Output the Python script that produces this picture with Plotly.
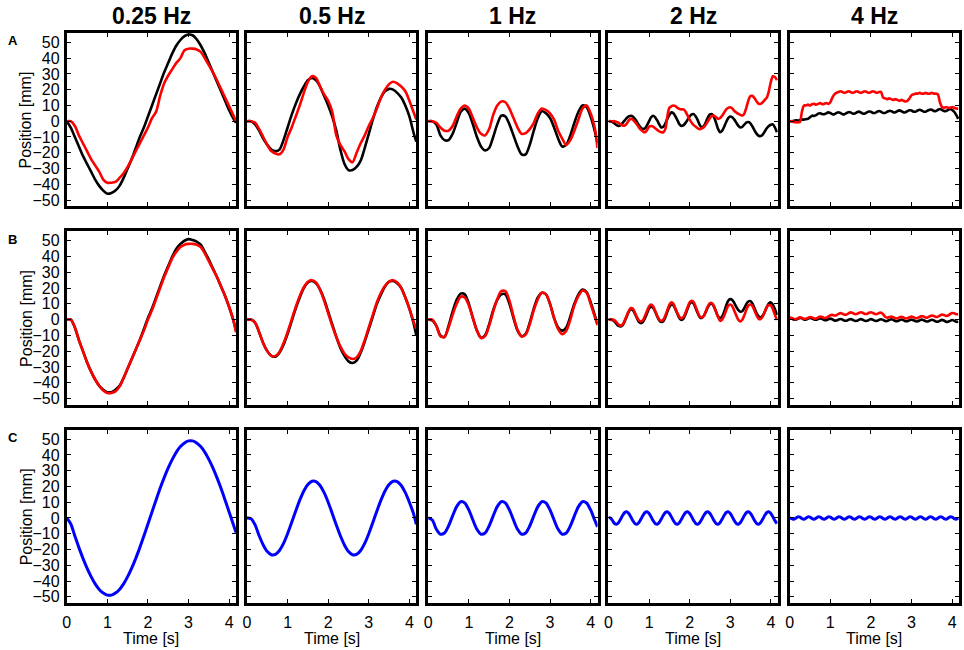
import plotly.graph_objects as go

# ---- time bases [s] ----
t_coarse = [0.0, 0.1, 0.2, 0.3, 0.4, 0.5, 0.6, 0.7, 0.8, 0.9,
            1.0, 1.1, 1.2, 1.3, 1.4, 1.5, 1.6, 1.7, 1.8, 1.9,
            2.0, 2.1, 2.2, 2.3, 2.4, 2.5, 2.6, 2.7, 2.8, 2.9,
            3.0, 3.1, 3.2, 3.3, 3.4, 3.5, 3.6, 3.7, 3.8, 3.9,
            4.0, 4.1, 4.17]

t_fine = [0.00, 0.05, 0.10, 0.15, 0.20, 0.25, 0.30, 0.35, 0.40, 0.45,
          0.50, 0.55, 0.60, 0.65, 0.70, 0.75, 0.80, 0.85, 0.90, 0.95,
          1.00, 1.05, 1.10, 1.15, 1.20, 1.25, 1.30, 1.35, 1.40, 1.45,
          1.50, 1.55, 1.60, 1.65, 1.70, 1.75, 1.80, 1.85, 1.90, 1.95,
          2.00, 2.05, 2.10, 2.15, 2.20, 2.25, 2.30, 2.35, 2.40, 2.45,
          2.50, 2.55, 2.60, 2.65, 2.70, 2.75, 2.80, 2.85, 2.90, 2.95,
          3.00, 3.05, 3.10, 3.15, 3.20, 3.25, 3.30, 3.35, 3.40, 3.45,
          3.50, 3.55, 3.60, 3.65, 3.70, 3.75, 3.80, 3.85, 3.90, 3.95,
          4.00, 4.05, 4.10, 4.15]

freq_labels = ['0.25 Hz', '0.5 Hz', '1 Hz', '2 Hz', '4 Hz']
row_labels = ['A', 'B', 'C']
y_ticks = [-50, -40, -30, -20, -10, 0, 10, 20, 30, 40, 50]
x_ticks = [0, 1, 2, 3, 4]

# ---- row A: black / red position [mm] ----
a_black_025 = [0, -4, -10, -16, -22, -27, -32, -37, -41, -44,
               -46, -45.5, -44, -41, -36, -30, -24, -17, -10, -4,
               3, 10, 17, 24, 31, 37, 43, 48, 51.5, 54,
               55, 54.5, 52, 48, 43, 37, 31, 25, 19, 13,
               7, 2, -1]
a_red_025 = [0, 0, -3, -9, -14, -19, -24, -28, -32, -37,
             -39, -39, -38.5, -36, -33, -29, -24, -19, -14, -9,
             -4, 2, 6, 16, 24, 29, 33, 37, 40, 45,
             46, 46, 45.5, 44, 40, 35.5, 31, 26, 20.5, 15,
             9.5, 4, 0]

a_black_05 = [0, 0, -2, -6, -11, -15, -18, -19, -18, -12,
              -4, 4, 11, 17, 22, 26, 27.5, 26, 22, 16,
              10, 3, -6, -18, -27, -31, -31, -29, -25, -17,
              -8, 1, 9, 15, 19, 20.5, 20, 18, 15, 10,
              3, -7, -13]
a_red_05 = [0, 0, -1, -5, -10, -15, -19, -20.5, -21, -18,
            -10, -4, 3, 10, 18, 25, 28.5, 27.5, 22, 17,
            13, 6, -9, -15, -19, -24, -26, -20, -14, -9,
            -3, 2, 8, 15, 20, 23.5, 25, 24, 22, 19,
            13, 6, 1]

a_black_1 = [0, 0, -2, -9, -12, -12, -8, -1, 6, 8,
             5, -2, -10, -16, -18.5, -17, -10, -2, 3.5, 3,
             -2, -9, -16, -21, -21, -15, -6, 2, 6.5, 5,
             2, -4, -11, -16, -15, -9, -1, 6, 10, 9,
             3, -6, -14]
a_red_1 = [0, 0, -1, -4, -6, -6, -3, 3, 8, 10,
           8, 2, -4, -8, -9, -5, 4, 10, 12.5, 12,
           8, 2, -4, -8, -7.5, -5, -1, 5, 8, 7,
           5, 1, -6, -11, -15, -12, -6, 1, 8, 10,
           5, -4, -17]

a_black_2 = [0, 0, -0.5, -1.5, -2.5, -3, -2.5, -1, 0.5, 2,
             3, 3.5, 3, 1.5, -0.5, -2.5, -4.2, -5, -4.5, -2.5,
             0, 2.5, 3.5, 2.5, 0.5, -2, -4, -3.5, -1.5, 1.5,
             4, 5.6, 5, 3, 0.5, -2, -3, -2.5, -1, 1,
             3, 4.3, 4.5, 3, 0.5, -2.5, -4, -3, -0.5, 2.5,
             4.3, 4.5, 2.5, -1, -5, -7, -6, -3.5, -0.5, 2,
             3, 2.5, 1, -1, -3, -4, -3.5, -2, -0.8, -0.5,
             -1.5, -3.5, -6, -8, -9.2, -9.4, -8.5, -6.5, -4.5, -3,
             -2.2, -2, -4, -7]
a_red_2 = [0, 0, 0, 0, -0.5, -1, -2, -2.7, -2.7, -1.5,
           0.5, 1.5, 1, -0.5, -2, -4, -5.5, -6.5, -7, -5.5,
           -3.5, -3, -3.5, -4.5, -5.5, -6.5, -7, -7, -5, 3,
           8.5, 9.5, 10, 9.5, 8.5, 7.7, 7.5, 7.5, 6, 3.5,
           1, -1, -2.5, -3.5, -4.5, -5, -4.5, -3.8, -2, 0,
           2, 3.5, 3.5, 2.5, 1.5, 2, 3.5, 5.5, 7.5, 8.5,
           8.8, 8, 6.5, 5.5, 4.6, 4, 3.6, 5, 9, 13.5,
           16, 16, 14.5, 12.5, 11, 11, 12, 13.5, 15, 19,
           25, 28.5, 28, 26]

a_black_4 = [0, 0, 0.3, 0.5, 0.5, 0.8, 1, 1, 1.3, 1.5,
             2.5, 3.5, 3.4, 3.9, 4.8, 5.0, 4.5, 4.4, 5.0, 5.6,
             5.2, 4.45, 4.45, 5.2, 5.7, 5.2, 4.45, 4.45, 5.2, 5.7,
             5.6, 4.85, 4.85, 5.6, 6.1, 5.6, 4.85, 4.85, 5.6, 6.1,
             6.0, 5.25, 5.25, 6.0, 6.5, 6.0, 5.25, 5.25, 6.0, 6.5,
             6.4, 5.65, 5.65, 6.4, 6.9, 6.4, 5.65, 5.65, 6.4, 6.9,
             6.8, 6.05, 6.05, 6.8, 7.3, 6.8, 6.05, 6.05, 6.8, 7.3,
             7.2, 6.45, 6.45, 7.2, 7.7, 7.2, 6.45, 6.45, 7.2, 7.7,
             7.2, 6, 4, 1.5]
a_red_4 = [0, 0, -0.5, -0.7, -0.7, -0.5, 6, 10, 10, 10.5,
           10, 10.8, 11, 10.5, 11, 11.5, 10.8, 11, 11.5, 11,
           12, 15, 17, 18, 18.5, 19, 18.5, 18, 18.5, 19,
           18.5, 18, 18.5, 19, 18.5, 18, 18.5, 19, 18.5, 18,
           18.5, 19, 18.5, 18, 18.5, 18.5, 15, 14.5, 14, 14.5,
           14, 13.5, 14, 13.5, 13, 13.5, 13, 12.5, 13, 14.5,
           16.5, 17, 17.5, 17.5, 18, 17.5, 17.5, 18, 17.5, 17.5,
           18, 17.5, 17.5, 17, 12, 9, 8.5, 9, 8.5, 8.5,
           9, 8.5, 8, 8]

# ---- row B: black / red position [mm] ----
b_black_025 = [0, 0, -5, -13, -20, -27, -33, -38, -42, -44.5,
               -46, -46, -44.5, -42, -37, -31, -25, -19, -13, -6,
               1, 7, 14, 21, 28, 34, 40, 45, 48, 50,
               51, 50.5, 49.5, 47.5, 43, 38, 32.5, 27, 21, 15,
               8, 0, -7]
b_red_025 = [0, 0, -5, -13, -20, -27, -33, -38, -42, -45,
             -46.5, -46.5, -45.5, -42.5, -37, -31, -25, -19, -13, -7,
             0, 6, 13, 20, 27, 33, 39, 43, 46, 47.5,
             48, 48, 47.5, 46, 42, 37, 32, 27, 21, 15,
             8, 0, -8]

b_black_05 = [0, 0, -2, -8, -15, -20, -23, -23.5, -21, -16,
              -9, -1, 7, 14, 20, 23.5, 24.5, 23, 19, 13,
              5, -3, -11, -18, -23, -26.5, -27.5, -26, -21, -14,
              -6, 2, 10, 16, 21, 24, 24.5, 23, 20, 14,
              7, -2, -10]
b_red_05 = [0, 0, -2, -8, -15, -20, -23, -23, -20.5, -15,
            -8, 0, 8, 15, 20.5, 24, 25, 23.5, 19, 12,
            4, -4, -11, -17, -21.5, -24, -25, -24, -20, -13,
            -5, 3, 11, 17, 21.5, 24, 25, 23.5, 20, 14,
            7, -1, -6]

b_black_1 = [0, -0.5, -4, -10, -11, -4, 5, 12.5, 16.5, 16,
             10, 1, -7, -11.5, -10, -3, 6, 12.5, 16, 16,
             10, 1, -7, -10.5, -9, -2, 7, 14, 17, 16,
             10, 1, -5, -7, -5, 2, 10, 16, 19, 17.5,
             11, 3, -3]
b_red_1 = [0, 0, -4, -10.5, -11, -5, 3, 10, 14.5, 14,
           9, 1, -7, -11.7, -10.5, -4, 5, 13, 18, 18,
           12, 2, -6.5, -10.7, -9.5, -3, 6, 13, 17, 16,
           10, 1, -6, -9.2, -7, 0, 9, 15, 18.5, 17,
           10, 2, -3.5]

b_black_2 = [0, 0, -0.3, -1.2, -2.8, -4, -4.4, -3.5, -1, 2,
             5, 6.7, 6, 3.8, 1, -1.5, -2.3, -1.5, 1, 4,
             7, 8.2, 7.5, 5, 2, -0.5, -1.5, -1, 1.5, 5,
             8, 9.6, 9, 6.5, 3.5, 0.8, -0.2, 0.8, 3.5, 7,
             10, 11, 10, 7, 4, 1.5, 1, 2.5, 5, 8,
             9.8, 10, 8, 5, 2, 1, 2, 5, 9, 12,
             13, 12.5, 10.5, 8, 6, 5, 5.5, 7.5, 10, 11.5,
             11.7, 10, 7, 4, 2, 1.3, 2.5, 5, 8, 10.2,
             10.9, 9.5, 6.5, 3]
b_red_2 = [0, 0, 0, -0.5, -1.8, -3.2, -3.8, -3, -0.5, 2.5,
           5.5, 7.3, 7, 4.5, 1.5, -0.5, -1.2, -0.3, 2.5, 5.5,
           8.5, 9.6, 8.5, 5.5, 2.5, 0, -0.8, 0, 2.5, 6,
           9.5, 10.9, 10, 7, 4, 1.5, 0.8, 1.8, 4.5, 8,
           11, 12, 11, 8, 4.5, 2, 1.3, 2.5, 5.5, 8.5,
           10.5, 10.5, 8.5, 5, 1.5, -0.8, 0, 2.5, 6, 8.8,
           9.6, 8.5, 5.5, 2.5, -0.2, -1.2, 0, 3, 6.5, 9,
           9.6, 8.5, 5.5, 2.5, 0.5, 0.3, 2, 5, 8, 9.2,
           9, 6.5, 3, -0.2]

b_black_4 = [0.8, 0.6, 0.0, -0.1, 0.5, 1.0, 0.8, 0.1, 0.0, 0.6,
             1.0, 0.7, 0.0, -0.1, 0.4, 0.8, 0.5, -0.3, -0.4, 0.2,
             0.6, 0.2, -0.5, -0.6, 0.0, 0.4, 0.0, -0.7, -0.7, -0.1,
             0.3, -0.1, -0.8, -0.8, -0.2, 0.3, -0.1, -0.8, -0.8, -0.2,
             0.3, -0.1, -0.8, -0.8, -0.2, 0.2, -0.2, -0.9, -0.9, -0.3,
             0.2, -0.2, -0.9, -1.0, -0.4, 0.1, -0.3, -1.0, -1.0, -0.4,
             0.0, -0.4, -1.1, -1.1, -0.5, 0.0, -0.4, -1.1, -1.2, -0.6,
             -0.1, -0.5, -1.2, -1.3, -0.7, -0.2, -0.6, -1.3, -1.4, -0.8,
             -0.3, -0.7, -1.4, -1.4]
b_red_4 = [1.3, 1.0, 0.4, 0.3, 0.9, 1.4, 1.1, 0.5, 0.5, 1.1,
           1.6, 1.3, 0.7, 0.7, 1.3, 1.9, 1.6, 1.0, 1.1, 1.9,
           2.8, 3.0, 2.6, 2.8, 3.6, 4.1, 3.7, 3.1, 3.2, 4.0,
           4.6, 4.2, 3.5, 3.5, 4.2, 4.7, 4.3, 3.6, 3.6, 4.3,
           4.7, 4.2, 3.5, 3.5, 4.2, 4.4, 3.4, 1.8, 1.2, 1.6,
           2.0, 1.5, 0.8, 0.8, 1.4, 1.8, 1.4, 0.8, 0.8, 1.5,
           1.9, 1.5, 0.9, 1.0, 1.7, 2.2, 1.9, 1.3, 1.4, 2.1,
           2.6, 2.3, 1.7, 1.8, 2.6, 3.2, 2.9, 2.4, 2.6, 3.5,
           4.2, 4.0, 3.4, 3.4]

# ---- row C: blue position [mm] ----
c_blue_025 = [0, -3.8, -11.4, -18.8, -25.6, -31.8, -37.2, -41.8, -45.3, -47.6,
              -48.9, -48.9, -47.6, -45.3, -41.8, -37.2, -31.8, -25.6, -18.8, -11.4,
              -3.8, 3.8, 11.4, 18.8, 25.6, 31.8, 37.2, 41.8, 45.3, 47.6,
              48.9, 48.9, 47.6, 45.3, 41.8, 37.2, 31.8, 25.6, 18.8, 11.4,
              3.8, -3.8, -9.2]
c_blue_05 = [0, -0.5, -4.4, -11.3, -17.1, -21.3, -23.3, -23.1, -20.6, -16.1,
             -10.0, -2.9, 4.4, 11.3, 17.1, 21.3, 23.3, 23.1, 20.6, 16.1,
             10.0, 2.9, -4.4, -11.3, -17.1, -21.3, -23.3, -23.1, -20.6, -16.1,
             -10.0, -2.9, 4.4, 11.3, 17.1, 21.3, 23.3, 23.1, 20.6, 16.1,
             10.0, 2.9, -4]
c_blue_1 = [0, -1.3, -7.2, -10.3, -9.5, -5.1, 1.3, 7.2, 10.3, 9.5,
            5.1, -1.3, -7.2, -10.3, -9.5, -5.1, 1.3, 7.2, 10.3, 9.5,
            5.1, -1.3, -7.2, -10.3, -9.5, -5.1, 1.3, 7.2, 10.3, 9.5,
            5.1, -1.3, -7.2, -10.3, -9.5, -5.1, 1.3, 7.2, 10.3, 9.5,
            5.1, -1.3, -5.6]
c_blue_2 = [0, 0, -1.7, -3.5, -4.0, -2.9, -0.7, 1.7, 3.5, 4.0,
            2.9, 0.7, -1.7, -3.5, -4.0, -2.9, -0.7, 1.7, 3.5, 4.0,
            2.9, 0.7, -1.7, -3.5, -4.0, -2.9, -0.7, 1.7, 3.5, 4.0,
            2.9, 0.7, -1.7, -3.5, -4.0, -2.9, -0.7, 1.7, 3.5, 4.0,
            2.9, 0.7, -1.7, -3.5, -4.0, -2.9, -0.7, 1.7, 3.5, 4.0,
            2.9, 0.7, -1.7, -3.5, -4.0, -2.9, -0.7, 1.7, 3.5, 4.0,
            2.9, 0.7, -1.7, -3.5, -4.0, -2.9, -0.7, 1.7, 3.5, 4.0,
            2.9, 0.7, -1.7, -3.5, -4.0, -2.9, -0.7, 1.7, 3.5, 4.0,
            2.9, 0.7, -1.7, -3.5]
c_blue_4 = [0, -0.4, -0.8, -0.1, 0.7, 0.55, -0.4, -0.8, -0.1, 0.7,
            0.55, -0.4, -0.8, -0.1, 0.7, 0.55, -0.4, -0.8, -0.1, 0.7,
            0.55, -0.4, -0.8, -0.1, 0.7, 0.55, -0.4, -0.8, -0.1, 0.7,
            0.55, -0.4, -0.8, -0.1, 0.7, 0.55, -0.4, -0.8, -0.1, 0.7,
            0.55, -0.4, -0.8, -0.1, 0.7, 0.55, -0.4, -0.8, -0.1, 0.7,
            0.55, -0.4, -0.8, -0.1, 0.7, 0.55, -0.4, -0.8, -0.1, 0.7,
            0.55, -0.4, -0.8, -0.1, 0.7, 0.55, -0.4, -0.8, -0.1, 0.7,
            0.55, -0.4, -0.8, -0.1, 0.7, 0.55, -0.4, -0.8, -0.1, 0.7,
            0.55, -0.4, -0.8, -0.1]

col_times = [t_coarse, t_coarse, t_coarse, t_fine, t_fine]
panels = [
    [[(a_black_025, 'black'), (a_red_025, 'red')],
     [(a_black_05, 'black'), (a_red_05, 'red')],
     [(a_black_1, 'black'), (a_red_1, 'red')],
     [(a_black_2, 'black'), (a_red_2, 'red')],
     [(a_black_4, 'black'), (a_red_4, 'red')]],
    [[(b_black_025, 'black'), (b_red_025, 'red')],
     [(b_black_05, 'black'), (b_red_05, 'red')],
     [(b_black_1, 'black'), (b_red_1, 'red')],
     [(b_black_2, 'black'), (b_red_2, 'red')],
     [(b_black_4, 'black'), (b_red_4, 'red')]],
    [[(c_blue_025, 'blue')], [(c_blue_05, 'blue')], [(c_blue_1, 'blue')],
     [(c_blue_2, 'blue')], [(c_blue_4, 'blue')]],
]

# ---- layout geometry (pixels) ----
W, H = 964, 650
col_left = [63, 244, 426, 607, 789]
row_top = [33, 232, 431]
pw, ph = 170, 174
colors = {'black': '#000000', 'red': '#ff0000', 'blue': '#0000ff'}
font = 'Arial, Liberation Sans, sans-serif'

fig = go.Figure()
layout = {}
for r in range(3):
    for c in range(5):
        n = r * 5 + c + 1
        sfx = '' if n == 1 else str(n)
        for series, cname in panels[r][c]:
            fig.add_trace(go.Scatter(
                x=col_times[c], y=series, mode='lines',
                line=dict(color=colors[cname], width=3 if cname == 'blue' else 2.6,
                          shape='spline', smoothing=0.8),
                xaxis='x' + sfx, yaxis='y' + sfx,
                showlegend=False, hoverinfo='skip'))
        common = dict(showline=True, linewidth=3, linecolor='black', mirror='ticks',
                      ticks='inside', ticklen=4, tickwidth=1, tickcolor='black',
                      showgrid=False, zeroline=False, fixedrange=True,
                      tickfont=dict(family=font, size=16, color='black'))
        layout['xaxis' + sfx] = dict(
            common, domain=[col_left[c] / W, (col_left[c] + pw) / W],
            anchor='y' + sfx, range=[0, 4.17], tickvals=x_ticks,
            showticklabels=(r == 2), ticklabelstandoff=3)
        layout['yaxis' + sfx] = dict(
            common, domain=[1 - (row_top[r] + ph) / H, 1 - row_top[r] / H],
            anchor='x' + sfx, range=[-54, 56], tickvals=y_ticks,
            showticklabels=(c == 0), ticklabelstandoff=1)


def label(text, px, py, size, angle=0):
    return dict(text=text, x=px / W, y=1 - py / H, xref='paper', yref='paper',
                xanchor='center', yanchor='middle', showarrow=False, textangle=angle,
                font=dict(family=font, size=size, color='black'))


annotations = []
for c, lab in enumerate(freq_labels):
    annotations.append(label('<b>' + lab + '</b>', col_left[c] + pw / 2, 16, 23))
    annotations.append(label('Time [s]', col_left[c] + pw / 2, 640, 16))
for r, lab in enumerate(row_labels):
    annotations.append(label('<b>' + lab + '</b>', 9, row_top[r] + 8, 13))
    annotations.append(label('Position [mm]', 22, row_top[r] + ph / 2, 16, -90))

fig.update_layout(**layout)
fig.update_layout(
    width=W, height=H, margin=dict(l=0, r=0, t=0, b=0),
    paper_bgcolor='white', plot_bgcolor='white',
    annotations=annotations, font=dict(family=font, color='black'))

fig.write_html("out.html", config={'displayModeBar': False},
               post_script="document.body.style.margin='0px';")
